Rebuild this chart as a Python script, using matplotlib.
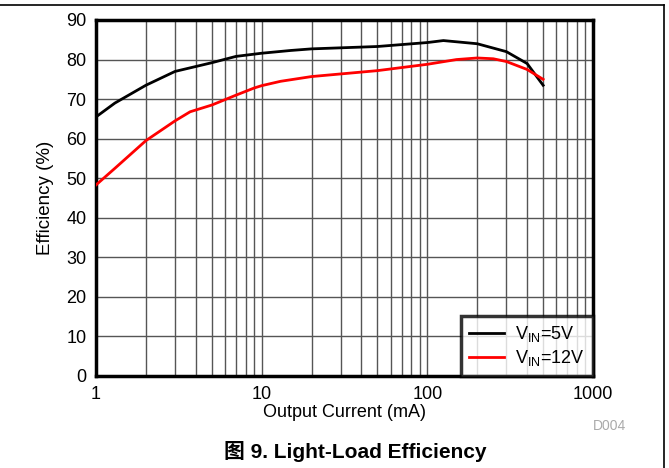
import matplotlib.pyplot as plt
from matplotlib.lines import Line2D

plt.rcParams['font.family'] = ['Liberation Sans', 'Noto Sans CJK SC', 'DejaVu Sans']

# Output current (mA) and efficiency (%)
current_5v = [1, 1.3, 2, 3, 5, 7, 10, 15, 20, 50, 100, 125, 200, 300, 400, 500]
eff_5v = [65.5, 69, 73.5, 77, 79.2, 80.8, 81.6, 82.3, 82.7, 83.3, 84.3, 84.8, 84.0, 82.0, 79.0, 73.5]

current_12v = [1, 1.3, 2, 3, 3.7, 5, 7, 9, 10, 13, 20, 50, 100, 150, 200, 250, 300, 400, 500]
eff_12v = [48.3, 52.5, 59.5, 64.5, 66.8, 68.5, 71.0, 72.8, 73.4, 74.5, 75.7, 77.2, 78.8, 80.0, 80.4, 80.2, 79.5, 77.5, 75.0]

fig = plt.figure(figsize=(6.69, 4.68), dpi=100)
ax = fig.add_axes([96/669, 1 - 376/468, (593-96)/669, (376-20)/468])

ax.plot(current_5v, eff_5v, color='black', lw=2, label='V$_{\\mathregular{IN}}$=5V', zorder=3)
ax.plot(current_12v, eff_12v, color='#ff0000', lw=2, label='V$_{\\mathregular{IN}}$=12V', zorder=3)

ax.set_xscale('log')
ax.set_xlim(1, 1000)
ax.set_ylim(0, 90)
ax.set_yticks(range(0, 91, 10))
ax.set_xticks([1, 10, 100, 1000])
ax.set_xticklabels(['1', '10', '100', '1000'])
ax.minorticks_on()
ax.yaxis.set_minor_locator(plt.NullLocator())
ax.tick_params(which='both', length=0, labelsize=13, pad=7)
ax.grid(which='major', color='#555555', lw=1)
ax.grid(which='minor', axis='x', color='#555555', lw=1)
for s in ax.spines.values():
    s.set_linewidth(2.5)

ax.set_xlabel('Output Current (mA)', fontsize=13, labelpad=1)
ax.set_ylabel('Efficiency (%)', fontsize=13.5, labelpad=9)

leg = ax.legend(loc='lower right', fontsize=13, frameon=True, fancybox=False,
                borderaxespad=0, handlelength=1.95, handletextpad=0.6,
                labelspacing=0.2, borderpad=0.45)
leg.get_frame().set_edgecolor('black')
leg.get_frame().set_linewidth(2.5)

fig.text(610/669, 1 - 426/468, 'D004', color='#aaaaaa', fontsize=10, ha='center', va='center')
fig.text(355/669, 1 - 451/468, '图 9. Light-Load Efficiency', fontsize=15, fontweight='bold',
         ha='center', va='center')

# outer frame: top and right edges
fig.add_artist(Line2D([0, 664/669], [1 - 5/468, 1 - 5/468], color='black', lw=1.2, transform=fig.transFigure))
fig.add_artist(Line2D([664/669, 664/669], [0, 1 - 5/468], color='black', lw=1.2, transform=fig.transFigure))

fig.savefig('out.png', dpi=100)
